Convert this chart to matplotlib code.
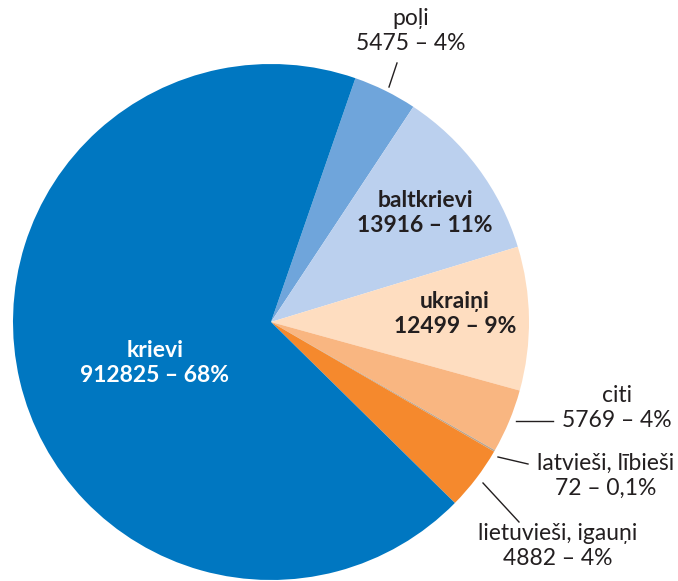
import numpy as np
import matplotlib.pyplot as plt

plt.rcParams['font.family'] = ['Lato', 'DejaVu Sans']

# clockwise from the top
names = ['poļi', 'baltkrievi', 'ukraiņi', 'citi', 'latvieši, lībieši', 'lietuvieši, igauņi', 'krievi']
counts = [5475, 13916, 12499, 5769, 72, 4882, 912825]
shares = [4, 11, 9, 4, 0.1, 4, 68]
share_txt = ['4', '11', '9', '4', '0,1', '4', '68']
colors = ['#6FA5DB', '#BBD0EE', '#FEDDC0', '#F9B681', '#B9A48F', '#F5892D', '#0077C1']

W, H = 678, 581
fig = plt.figure(figsize=(W / 100, H / 100), dpi=100)
ax = fig.add_axes([0, 0, 1, 1])

cx, cy, r = 271, H - 322, 258
ax.pie(shares, colors=colors, startangle=70.9, counterclock=False,
       center=(cx, cy), radius=r, wedgeprops=dict(linewidth=0))
ax.set_xlim(0, W)
ax.set_ylim(0, H)
ax.set_aspect('equal')
ax.axis('off')

dark = '#231F20'
fs = 16.5
ls = 1.22

def lab(i):
    return f'{names[i]}\n{counts[i]} – {share_txt[i]}%'

# labels inside the slices
ax.text(425, H - 213, lab(1), ha='center', va='center', fontsize=fs, fontweight='bold', color=dark, linespacing=ls)
ax.text(455, H - 314, lab(2), ha='center', va='center', fontsize=fs, fontweight='bold', color=dark, linespacing=ls)
ax.text(155, H - 363, lab(6), ha='center', va='center', fontsize=fs, fontweight='bold', color='white', linespacing=ls)

# outside labels with leader lines
outside = [
    (0, (411, 31), (397, 63), (389, 87)),
    (3, (617, 408), (553, 421), (516, 421)),
    (4, (606, 476), (528, 464), (498, 457)),
    (5, (558, 546), (519, 522), (483, 483)),
]
for i, (tx, ty), (x0, y0), (x1, y1) in outside:
    ax.text(tx, H - ty, lab(i), ha='center', va='center', fontsize=fs, color=dark, linespacing=ls)
    ax.plot([x0, x1], [H - y0, H - y1], color=dark, lw=1)

fig.savefig('out.png', dpi=100)
